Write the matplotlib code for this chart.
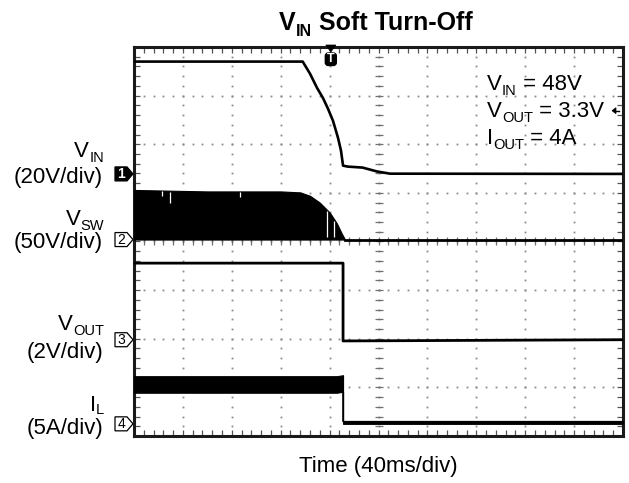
import numpy as np
import matplotlib
matplotlib.use("Agg")
import matplotlib.pyplot as plt
import matplotlib.transforms as mtransforms
from matplotlib.patches import Polygon, FancyBboxPatch

plt.rcParams['font.family'] = ['Liberation Sans', 'DejaVu Sans']

##### scope settings #####
ms_per_div = 40
n_xdiv, n_ydiv = 10, 8
ch_names = [('V', 'IN'), ('V', 'SW'), ('V', 'OUT'), ('I', 'L')]
ch_scales = ['(20V/div)', '(50V/div)', '(2V/div)', '(5A/div)']
units_per_div = [20, 50, 2, 5]
ch_offsets = [5.39, 4.04, 1.98, 0.25]   # ground marker, in divisions
trig_time = 161                          # ms
trig_level = 26                          # V on CH1

##### traces #####
vin_t = [0, 138, 144, 149.7, 154.6, 158.7, 162.8, 166.9, 169.3, 171, 175, 187, 198.8, 209.4, 400]
vin_v = [46.2, 46.2, 41.2, 35.4, 31.2, 26.8, 21.8, 14.8, 9.6, 3.4, 3.0, 2.6, 1.0, 0.1, 0.0]

vsw_t = [0, 60, 120, 136, 144, 152, 160.3, 166, 170, 172.6]
vsw_env = [51, 49.5, 49.5, 48.5, 45, 38, 27.5, 16.5, 6, 0]
vsw_gap_t = [23, 29.5, 87, 158, 164]
vsw_gap_v = [45, 38, 44, 3, 3]
vsw_off_t = [172.6, 400]
vsw_off_v = [0, 0]

vout_t = [0, 171, 171, 400]
vout_v = [3.15, 3.15, -0.05, 0.0]

il_t = [0, 166, 171, 171, 400]
il_hi = [4.9, 4.9, 5.0, 0.3, 0.3]
il_lo = [3.2, 3.2, 3.3, 0.0, 0.0]

annot = [('V', 'IN', ' = 48V'), ('V', 'OUT', ' = 3.3V'), ('I', 'OUT', ' = 4A')]

W, H = 629, 483
fig = plt.figure(figsize=(W / 100, H / 100), dpi=100)
ax = fig.add_axes([134 / W, 1 - 436 / H, (623 - 134) / W, (436 - 47) / H])
tmax = ms_per_div * n_xdiv
ax.set_xlim(0, tmax)
ax.set_ylim(0, n_ydiv)


def div(ch, vals):
    return ch_offsets[ch] + np.asarray(vals, dtype=float) / units_per_div[ch]


# graticule: dotted lines + centre cross
xs_minor = np.arange(0, tmax + 0.1, ms_per_div / 5)
ys_minor = np.arange(0, n_ydiv + 0.01, 0.2)
for i in range(1, n_xdiv):
    ax.plot(np.full_like(ys_minor, i * ms_per_div), ys_minor, ls='none', marker='s',
            ms=1.3, mew=0, color='#8a8a8a', zorder=1)
for j in range(1, n_ydiv):
    ax.plot(xs_minor, np.full_like(xs_minor, j), ls='none', marker='s',
            ms=1.3, mew=0, color='#8a8a8a', zorder=1)
ax.plot(np.full_like(ys_minor, tmax / 2), ys_minor, ls='none', marker='_', ms=6,
        mew=0.9, color='#707070', zorder=1)
ax.plot(xs_minor, np.full_like(xs_minor, n_ydiv / 2), ls='none', marker='|', ms=6,
        mew=0.9, color='#707070', zorder=1)

ax.set_xticks(np.arange(0, tmax + 1, ms_per_div))
ax.set_xticks(xs_minor, minor=True)
ax.set_yticks(np.arange(0, n_ydiv + 1, 1))
ax.set_yticks(ys_minor, minor=True)
ax.tick_params(which='both', direction='in', top=True, right=True,
               labelbottom=False, labelleft=False, length=4, width=0.9, color='#555')
for s in ax.spines.values():
    s.set_linewidth(2.2)
    s.set_color('#1a1a1a')

# CH1 VIN
ax.plot(vin_t, div(0, vin_v), color='black', lw=1.9, zorder=3)

# CH2 VSW (switching envelope)
ax.fill_between(vsw_t, ch_offsets[1], div(1, vsw_env), color='black', lw=0.8, zorder=3)
tops = np.interp(vsw_gap_t, vsw_t, div(1, vsw_env)) - 0.02
ax.vlines(vsw_gap_t, div(1, vsw_gap_v), tops, color='white', lw=0.9, zorder=4)
ax.plot(vsw_off_t, div(1, vsw_off_v), color='black', lw=2.0, zorder=3)

# CH3 VOUT
ax.plot(vout_t, div(2, vout_v), color='black', lw=2.0, zorder=3)

# CH4 IL
ax.fill_between(il_t, div(3, il_lo), div(3, il_hi), color='black', lw=0.8, zorder=3)
ax.plot([il_t[2], il_t[3]], [div(3, il_lo[2]), div(3, il_hi[3])], color='black', lw=1.2, zorder=3)

# channel ground markers on the left
left_blend = mtransforms.blended_transform_factory(ax.transAxes, ax.transData)
for ch in range(4):
    tr = fig.dpi_scale_trans + mtransforms.ScaledTranslation(0, ch_offsets[ch], left_blend)
    verts = np.array([(-19, -7), (-7, -7), (-1, 0), (-7, 7), (-19, 7)]) / 100
    filled = ch == 0
    ax.add_patch(Polygon(verts, closed=True, transform=tr, clip_on=False,
                         fc='black' if filled else 'white', ec='black', lw=0.9))
    ax.text(-0.125, -0.005, str(ch + 1), transform=tr, ha='center', va='center',
            fontsize=10, fontweight='bold' if filled else 'normal',
            color='white' if filled else 'black', clip_on=False)

# trigger position marker (top)
top_blend = mtransforms.blended_transform_factory(ax.transData, ax.transAxes)
tr = fig.dpi_scale_trans + mtransforms.ScaledTranslation(trig_time, 1, top_blend)
ax.add_patch(Polygon(np.array([(-5, 2), (5, 2), (0, -5)]) / 100, closed=True,
                     transform=tr, clip_on=False, fc='black', ec='black', lw=0.5, zorder=5))
ax.add_patch(FancyBboxPatch((-0.055, -0.185), 0.11, 0.125,
                            boxstyle='round,pad=0,rounding_size=0.03',
                            transform=tr, clip_on=False, fc='black', ec='black', zorder=5))
ax.text(0, -0.122, 'T', transform=tr, ha='center', va='center', fontsize=9,
        fontweight='bold', color='white', zorder=6)

# trigger level arrow (right)
right_blend = mtransforms.blended_transform_factory(ax.transAxes, ax.transData)
tr = fig.dpi_scale_trans + mtransforms.ScaledTranslation(1, div(0, trig_level), right_blend)
ax.add_patch(Polygon(np.array([(-11, 0), (-7, 3), (-7, -3)]) / 100, closed=True,
                     transform=tr, clip_on=False, fc='black', ec='black', lw=0.5, zorder=5))
ax.plot([-0.08, -0.04], [0, 0], transform=tr, color='black', lw=1.0, zorder=5)

renderer = fig.canvas.get_renderer()


def rich(x, y, pieces, ha='left', weight='normal'):
    """pieces: list of (text, fontsize, drop_px); x, y in pixels from top-left"""
    arts = []
    for txt, fs, drop in pieces:
        t = fig.text(0, 0, txt, fontsize=fs, fontweight=weight, va='baseline', ha='left')
        arts.append((t, t.get_window_extent(renderer).width, drop))
    total = sum(w for _, w, _ in arts)
    x0 = x - {'left': 0, 'center': total / 2, 'right': total}[ha]
    for t, w, drop in arts:
        t.set_position((x0 / W, 1 - (y + drop) / H))
        x0 += w


# text
rich(376, 30, [('V', 18, 0), ('IN', 11.5, 6), (' Soft Turn-Off', 18, 0)], ha='center', weight='bold')
name_base = [157, 225, 330, 411]
scale_base = [183, 248, 358, 434]
for ch in range(4):
    big, small = ch_names[ch]
    rich(104, name_base[ch], [(big, 16, 0), (small, 10.5, 5 if ch < 3 else 3)], ha='right')
    fig.text(103 / W, 1 - scale_base[ch] / H, ch_scales[ch], ha='right', va='baseline', fontsize=16)

for (big, small, rest), yb in zip(annot, [90, 117, 144]):
    rich(487, yb, [(big, 16, 0), (small, 10.5, 5), (rest, 16, 0)])

fig.text(378 / W, 1 - 472 / H, 'Time (40ms/div)', ha='center', va='baseline', fontsize=16)

fig.savefig('out.png', dpi=100)
